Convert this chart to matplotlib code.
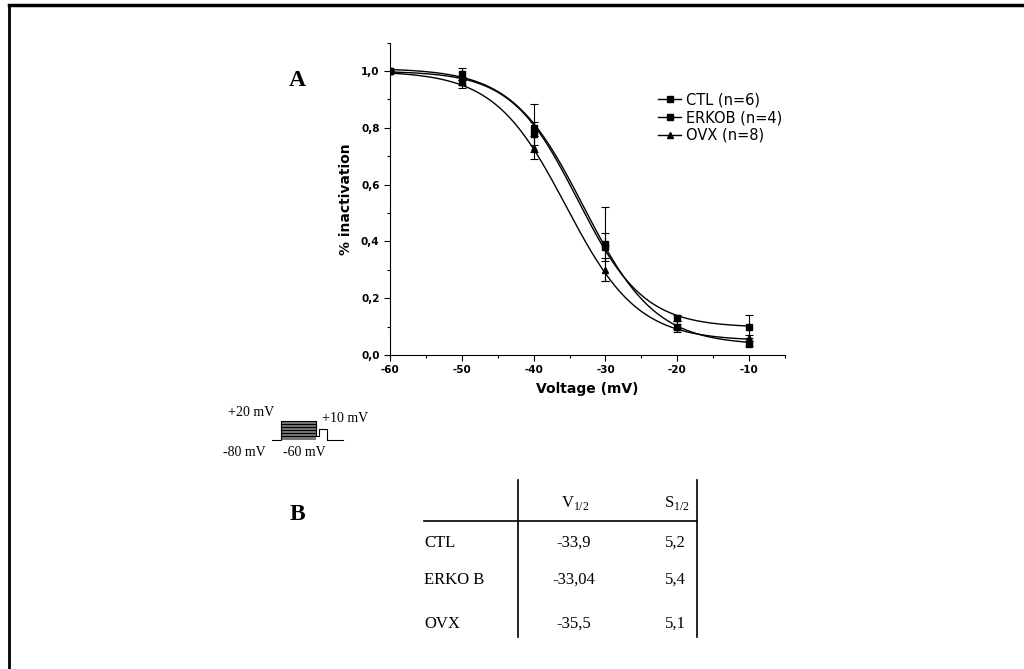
import numpy as np
import matplotlib
matplotlib.use("Agg")
import matplotlib.pyplot as plt
from matplotlib.ticker import MultipleLocator, FuncFormatter

plt.rcParams["axes.unicode_minus"] = False

# Data
voltage = [-60, -50, -40, -30, -20, -10]
ctl = [1.0, 0.96, 0.80, 0.39, 0.13, 0.10]
ctl_err = [0.0, 0.02, 0.085, 0.13, 0.01, 0.04]
erkob = [1.0, 0.99, 0.78, 0.38, 0.10, 0.04]
erkob_err = [0.0, 0.02, 0.04, 0.05, 0.02, 0.01]
ovx = [1.0, 0.96, 0.73, 0.30, 0.10, 0.06]
ovx_err = [0.0, 0.01, 0.04, 0.04, 0.01, 0.01]

labels = ["CTL (n=6)", "ERKOB (n=4)", "OVX (n=8)"]
markers = ["s", "s", "^"]

# table B
groups = ["CTL", "ERKO B", "OVX"]
v_half = [-33.9, -33.04, -35.5]
v_half_txt = ["-33,9", "-33,04", "-35,5"]
slope_txt = ["5,2", "5,4", "5,1"]
# Boltzmann curves as drawn in panel A
fit_slope = [4.6, 5.0, 5.0]
fit_top = [1.0, 1.01, 1.0]
fit_bottom = [0.097, 0.035, 0.05]

fig = plt.figure(figsize=(10.24, 6.69), dpi=100)
W, H = 1024, 669

ax = fig.add_axes([390 / W, 1 - 355 / H, (785 - 390) / W, (355 - 42.7) / H])
vv = np.linspace(-60, -10, 300)
series = [(ctl, ctl_err), (erkob, erkob_err), (ovx, ovx_err)]
for i, (y, e) in enumerate(series):
    fit = fit_bottom[i] + (fit_top[i] - fit_bottom[i]) / (1 + np.exp((vv - v_half[i]) / fit_slope[i]))
    ax.plot(vv, fit, color="black", lw=1)
    ax.errorbar(voltage, y, yerr=e, fmt="none", ecolor="black", elinewidth=0.8, capsize=3, capthick=0.8)
    ax.plot(voltage, y, linestyle="none", marker=markers[i], color="black", markersize=5)
    ax.plot([], [], color="black", lw=1, marker=markers[i], markersize=4, label=labels[i])

ax.set_xlim(-60, -5)
ax.set_ylim(0, 1.1)
ax.spines["top"].set_visible(False)
ax.spines["right"].set_visible(False)
ax.xaxis.set_major_locator(MultipleLocator(10))
ax.xaxis.set_minor_locator(MultipleLocator(5))
ax.yaxis.set_major_locator(MultipleLocator(0.2))
ax.yaxis.set_minor_locator(MultipleLocator(0.1))
ax.yaxis.set_major_formatter(FuncFormatter(lambda v, p: ("%.1f" % v).replace(".", ",")))
ax.tick_params(which="major", direction="out", length=4, width=0.8, labelsize=7.5)
ax.tick_params(which="minor", direction="out", length=2.5, width=0.8)
for t in ax.get_xticklabels() + ax.get_yticklabels():
    t.set_fontweight("bold")
ax.set_xlabel("Voltage (mV)", fontsize=10, fontweight="bold", labelpad=5)
ax.set_ylabel("% inactivation", fontsize=10, fontweight="bold", labelpad=6)
ax.legend(loc="upper left", bbox_to_anchor=(0.66, 0.865), frameon=False, fontsize=10.5,
          handlelength=1.6, handletextpad=0.3, labelspacing=0.2, borderpad=0)

# overlay in pixel coordinates for panel letters, pulse diagram and table
ov = fig.add_axes([0, 0, 1, 1])
ov.set_xlim(0, W)
ov.set_ylim(H, 0)
ov.axis("off")
ov.plot([9, 9], [5, H], color="black", lw=2)
ov.plot([9, W], [5, 5], color="black", lw=2.5)

serif = "Liberation Serif"
ov.text(297, 81, "A", fontsize=17, fontweight="bold", family=serif, ha="center", va="center")
ov.text(297, 514, "B", fontsize=17, fontweight="bold", family=serif, ha="center", va="center")

# pulse protocol
ov.fill_between([281, 316], 421, 440, color="#777777", lw=0)
ov.plot([272, 281, 281, 316, 316, 281], [440, 440, 421, 421, 436, 436], color="black", lw=0.8)
for yy in [424, 427, 430, 433]:
    ov.plot([281, 316], [yy, yy], color="black", lw=0.8)
ov.plot([316, 319, 319, 327, 327, 343], [436, 436, 429, 429, 440, 440], color="black", lw=0.8)
ov.text(228, 413, "+20 mV", fontsize=10, family=serif, va="center")
ov.text(322, 418, "+10 mV", fontsize=10, family=serif, va="center")
ov.text(223, 452, "-80 mV", fontsize=10, family=serif, va="center")
ov.text(283, 452, "-60 mV", fontsize=10, family=serif, va="center")

# table B
ov.plot([518, 518], [480, 637], color="black", lw=1.2)
ov.plot([697, 697], [480, 637], color="black", lw=1.2)
ov.plot([424, 697], [521, 521], color="black", lw=1.2)
ov.text(575, 503, r"V$_{\mathregular{1/2}}$", fontsize=12, family=serif, ha="center", va="center")
ov.text(677, 503, r"S$_{\mathregular{1/2}}$", fontsize=12, family=serif, ha="center", va="center")
row_y = [543, 580, 624]
for i, g in enumerate(groups):
    ov.text(424, row_y[i], g, fontsize=12, family=serif, va="center")
    ov.text(574, row_y[i], v_half_txt[i], fontsize=12, family=serif, ha="center", va="center")
    ov.text(675, row_y[i], slope_txt[i], fontsize=12, family=serif, ha="center", va="center")

fig.savefig("out.png", dpi=100)
